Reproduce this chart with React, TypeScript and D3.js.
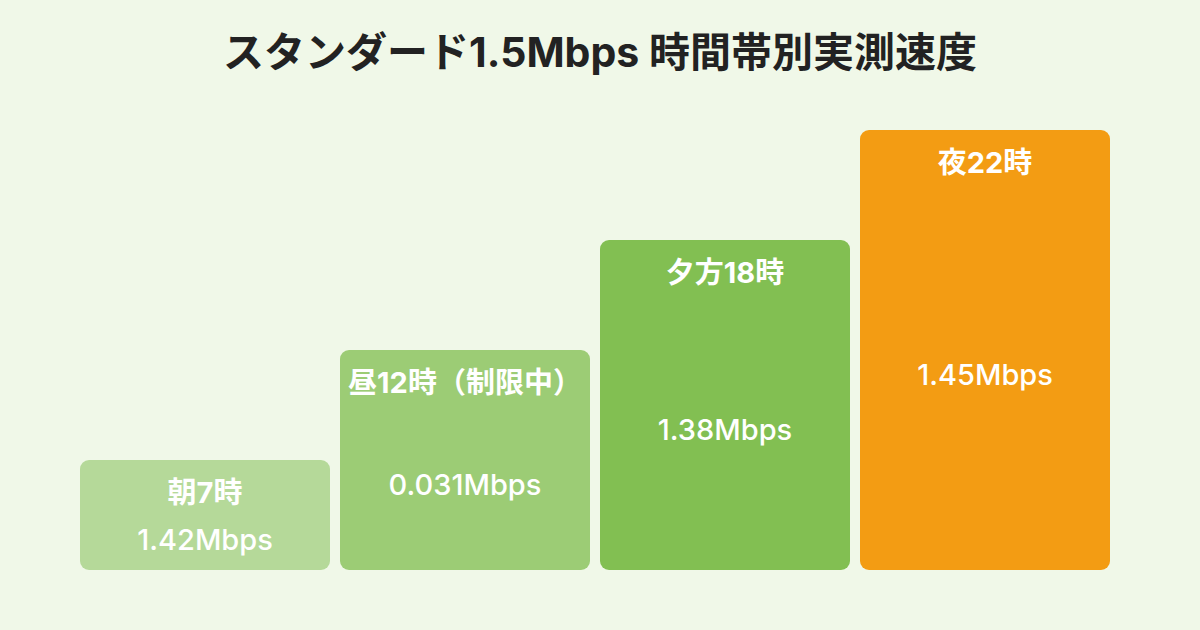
import * as d3 from "d3";

// 時間帯ごとの実測値（棒の高さは段階表示）
const slots = ["朝7時", "昼12時（制限中）", "夕方18時", "夜22時"];
const speeds = ["1.42Mbps", "0.031Mbps", "1.38Mbps", "1.45Mbps"];
const steps = [1, 2, 3, 4];
const colors = ["#b5d999", "#9ccc75", "#82bf52", "#f39c13"];

const width = 1200;
const height = 630;
const marginLeft = 80;
const marginRight = 90;
const baseY = 570;
const topY = 130;

export default function App() {
    const x = d3.scaleBand<string>().domain(slots).range([marginLeft, width - marginRight]).paddingInner(10 / 260);
    const y = d3.scaleLinear([0, d3.max(steps) as number], [baseY, topY]);
    const font = "Inter, 'Noto Sans CJK JP', sans-serif";

    return (
        <svg width={width} height={height} style={{ position: "absolute", left: 0, top: 0, background: "#f0f8e8" }} fontFamily={font}>
            <rect width={width} height={height} fill="#f0f8e8" />
            <text x={width / 2} y={52} textAnchor="middle" dominantBaseline="central" fontSize={41} fontWeight={700} fill="#222">
                スタンダード1.5Mbps 時間帯別実測速度
            </text>
            {slots.map((s, i) => {
                const x0 = x(s) as number;
                const top = y(steps[i]);
                const cx = x0 + x.bandwidth() / 2;
                return (
                    <g key={s}>
                        <rect x={x0} y={top} width={x.bandwidth()} height={baseY - top} rx={9} fill={colors[i]} />
                        <text x={cx} y={top + 32} textAnchor="middle" dominantBaseline="central" fontSize={29} fontWeight={700} fill="#fff">
                            {s}
                        </text>
                        <text x={cx} y={(top + baseY) / 2 + 24} textAnchor="middle" dominantBaseline="central" fontSize={29} fontWeight={500} fill="#fff">
                            {speeds[i]}
                        </text>
                    </g>
                );
            })}
        </svg>
    );
}
